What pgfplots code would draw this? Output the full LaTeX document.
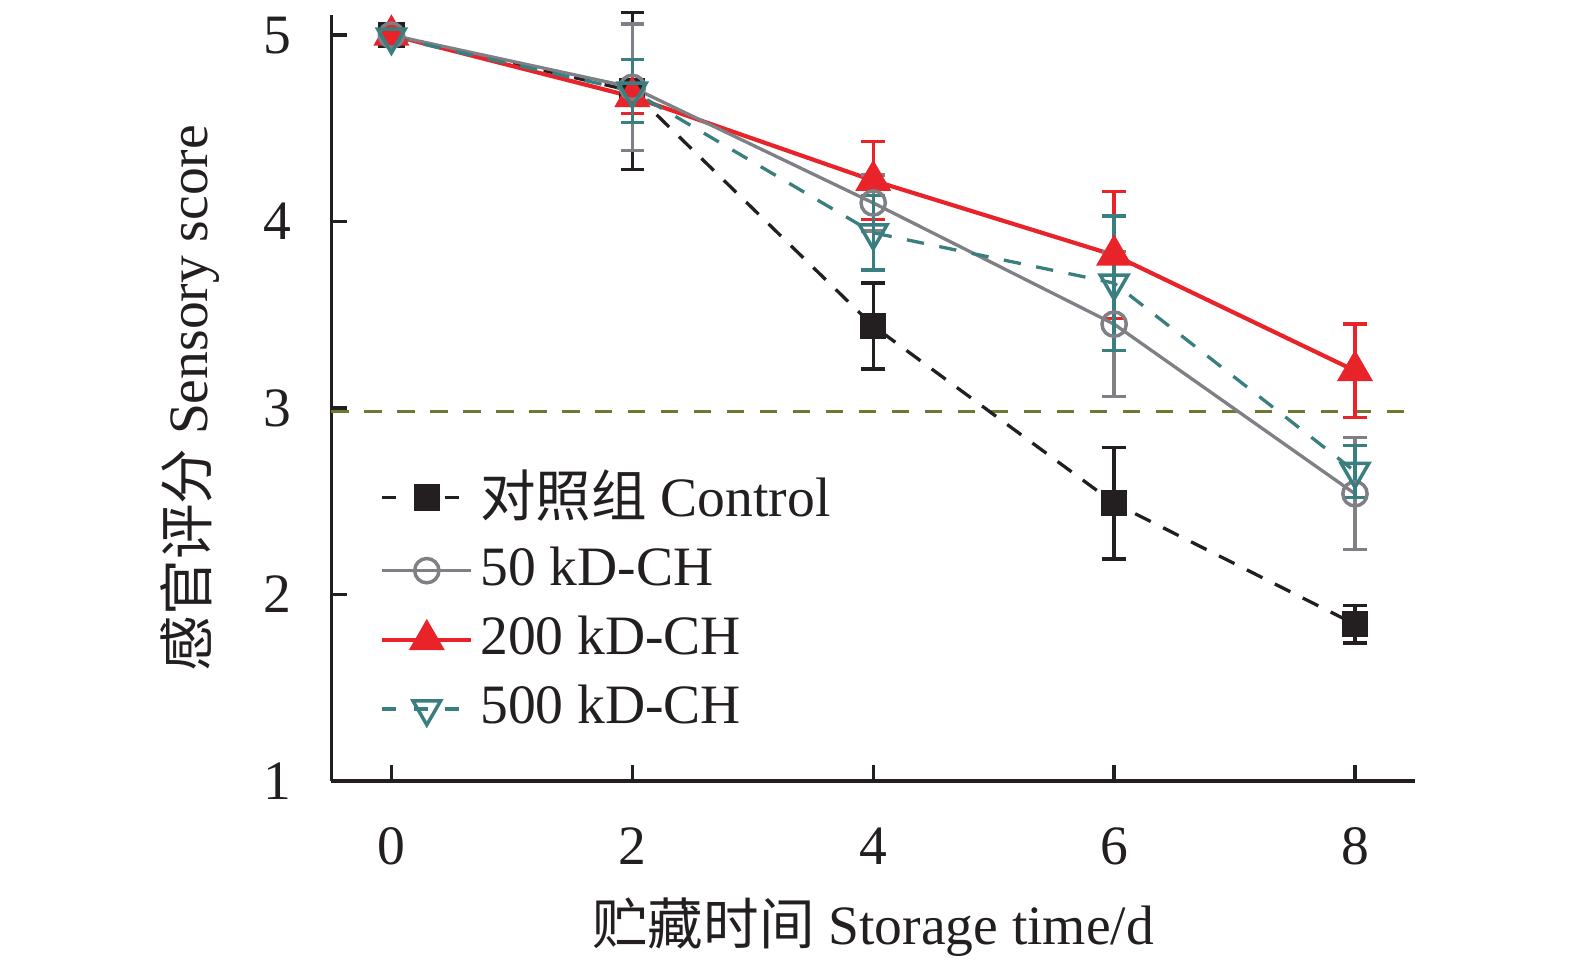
\documentclass[border=0pt]{standalone}
\usepackage{fontspec}
\setmainfont{Liberation Serif}
\newfontfamily\cjk{Noto Sans CJK SC}
\usepackage{pgfplots}
\pgfplotsset{compat=1.18}
\definecolor{cblack}{HTML}{231F20}
\definecolor{cgray}{HTML}{7F8086}
\definecolor{cred}{HTML}{E8242A}
\definecolor{cteal}{HTML}{3A7F80}
\definecolor{colive}{HTML}{6E7832}
\begin{document}
\fontsize{16}{19}\selectfont
\begin{tikzpicture}
\path[use as bounding box] (-3.352,-1.893) rectangle (12.588,7.903);
\begin{axis}[
  scale only axis,
  width=10.971cm, height=7.751cm,
  xmin=-0.5, xmax=8.5, ymin=1, ymax=5.108,
  axis lines*=left,
  axis line style={line width=0.95pt, cblack},
  xtick={0,2,4,6,8}, ytick={1,2,3,4,5},
  tick align=inside,
  major tick length=4.6pt,
  tick style={line width=0.95pt, cblack},
  /pgf/number format/assume math mode=true,
  ticklabel style={font=\fontsize{16}{19}\selectfont, text=cblack},
  xticklabel style={yshift=-8pt},
  yticklabel style={xshift=-6pt},
  xlabel={{\cjk 贮藏时间} Storage time/d},
  ylabel={{\cjk 感官评分} Sensory score},
  label style={font=\fontsize{16}{19}\selectfont, text=cblack},
  xlabel style={yshift=1.5pt},
  ylabel style={yshift=1.8pt},
  legend cell align=left,
  legend style={draw=none, fill=none, at={(0.035,0.425)}, anchor=north west,
    font=\fontsize{16}{19}\selectfont, text=cblack, row sep=2.4pt},
  legend image code/.code={\draw[mark repeat=2,mark phase=2] plot coordinates {(0cm,0cm) (0.45cm,0cm) (0.9cm,0cm)};},
  clip=false,
]
\addplot[colive, line width=0.95pt, dash pattern=on 5pt off 4.5pt, forget plot] coordinates {(-0.5,2.98) (8.5,2.98)};

\addplot[forget plot, cblack, line width=0.95pt, dash pattern=on 5pt off 4pt, mark=square*, mark size=3.3pt, mark options={solid},
  error bars/.cd, y dir=both, y explicit,
  error bar style={solid, line width=0.95pt},
  error mark options={rotate=90, solid, mark size=3.4pt, line width=0.95pt}]
  table[x=x, y=y, y error=e] {
x y e
0 5.00 0
2 4.70 0.42
4 3.44 0.23
6 2.49 0.30
8 1.84 0.10
};

\addplot[forget plot, cred, line width=1.2pt, mark=triangle*, mark size=4.8pt, mark options={solid},
  error bars/.cd, y dir=both, y explicit,
  error bar style={solid, line width=0.95pt},
  error mark options={rotate=90, solid, mark size=3.4pt, line width=0.95pt}]
  table[x=x, y=y, y error=e] {
x y e
0 5.00 0
2 4.67 0.09
4 4.22 0.21
6 3.82 0.34
8 3.20 0.25
};

\addplot[forget plot, cgray, line width=0.95pt, mark=o, mark size=3.5pt, mark options={solid, fill=white, line width=1pt},
  error bars/.cd, y dir=both, y explicit,
  error bar style={solid, line width=0.95pt},
  error mark options={rotate=90, solid, mark size=3.4pt, line width=0.95pt}]
  table[x=x, y=y, y error=e] {
x y e
0 5.00 0
2 4.72 0.34
4 4.10 0.15
6 3.45 0.39
8 2.54 0.30
};

\addplot[forget plot, cteal, line width=0.95pt, dash pattern=on 5pt off 4.5pt, mark=triangle, mark size=4.6pt, mark options={solid, rotate=180, line width=1pt},
  error bars/.cd, y dir=both, y explicit,
  error bar style={solid, line width=0.95pt},
  error mark options={rotate=90, solid, mark size=3.4pt, line width=0.95pt}]
  table[x=x, y=y, y error=e] {
x y e
0 4.99 0
2 4.70 0.17
4 3.94 0.20
6 3.67 0.36
8 2.66 0.14
};

\addlegendimage{cblack, line width=0.95pt, dash pattern=on 4pt off 5pt, mark=square*, mark size=3.3pt, mark options={solid}}
\addlegendentry{{\cjk 对照组} Control}
\addlegendimage{cgray, line width=0.95pt, mark=o, mark size=3.5pt, mark options={solid, fill=white, line width=1pt}}
\addlegendentry{50 kD-CH}
\addlegendimage{cred, line width=1.2pt, mark=triangle*, mark size=4.8pt}
\addlegendentry{200 kD-CH}
\addlegendimage{cteal, line width=0.95pt, dash pattern=on 4pt off 5pt, mark=triangle, mark size=4.6pt, mark options={solid, rotate=180, line width=1pt}}
\addlegendentry{500 kD-CH}
\end{axis}
\end{tikzpicture}
\end{document}
